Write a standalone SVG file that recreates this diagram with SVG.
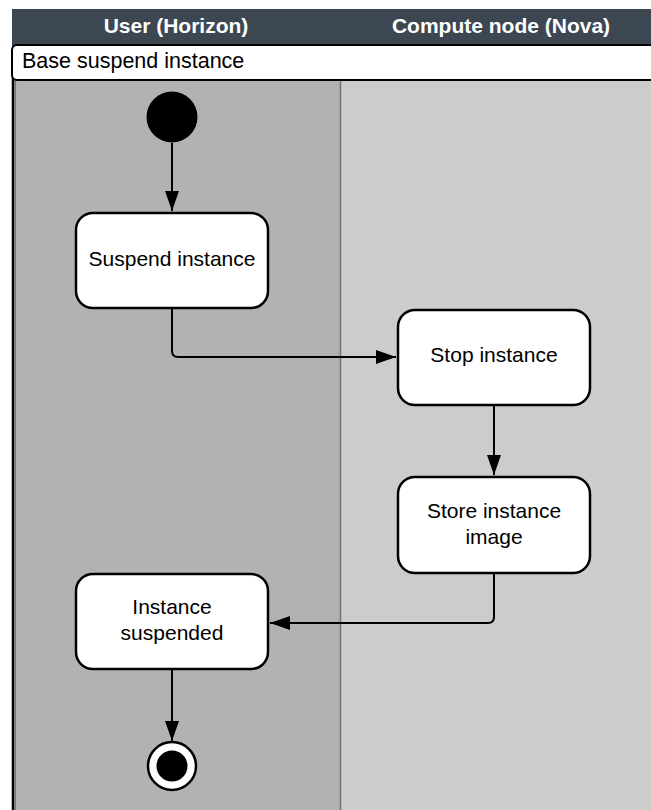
<svg xmlns="http://www.w3.org/2000/svg" width="651" height="810" viewBox="0 0 651 810">
<defs>
<style>
.lbl{font-family:"Liberation Sans",Arial,sans-serif;font-size:21px;fill:#000;text-anchor:middle}
.hdr{font-family:"Liberation Sans",Arial,sans-serif;font-size:21px;font-weight:bold;fill:#fff;text-anchor:middle}
.node{fill:#fff;stroke:#000;stroke-width:2.5}
.conn{fill:none;stroke:#000;stroke-width:2}
</style>
<marker id="arr" markerWidth="20" markerHeight="14" refX="20" refY="7" orient="auto" markerUnits="userSpaceOnUse">
<path d="M0,0 L20,7 L0,14 Z" fill="#000"/>
</marker>
</defs>
<rect x="0" y="0" width="651" height="810" fill="#fff"/>
<g id="pool">
<rect x="12" y="9" width="645" height="40" fill="#3d4752"/>
<text class="hdr" x="176" y="33">User (Horizon)</text>
<text class="hdr" x="501" y="33">Compute node (Nova)</text>
<rect x="12" y="80" width="328" height="740" fill="#b2b2b2"/>
<rect x="340" y="80" width="320" height="740" fill="#cccccc"/>
<line x1="340.5" y1="80" x2="340.5" y2="810" stroke="#6b737b" stroke-width="1.5"/>
<line x1="13" y1="60" x2="13" y2="810" stroke="#000" stroke-width="2.5"/>
<line x1="15.5" y1="80" x2="15.5" y2="810" stroke="#6b737b" stroke-width="1"/>
<rect x="12" y="45" width="650" height="35" rx="5" fill="#fff" stroke="#000" stroke-width="2"/>
<text x="22" y="68" font-family="'Liberation Sans',Arial,sans-serif" font-size="21.5" fill="#000">Base suspend instance</text>
</g>
<g id="connectors">
<path class="conn" d="M172,143 V211" marker-end="url(#arr)"/>
<path class="conn" d="M172,308 V351 Q172,357 178,357 H396" marker-end="url(#arr)"/>
<path class="conn" d="M494,405 V475" marker-end="url(#arr)"/>
<path class="conn" d="M494,573 V617 Q494,623 488,623 H270" marker-end="url(#arr)"/>
<path class="conn" d="M172,669 V741" marker-end="url(#arr)"/>
</g>
<g id="start">
<circle cx="172" cy="117" r="25.5" fill="#000"/>
</g>
<g id="suspend-instance">
<rect class="node" x="76" y="213" width="192" height="95" rx="17"/>
<text class="lbl" x="172" y="266">Suspend instance</text>
</g>
<g id="stop-instance">
<rect class="node" x="398" y="310" width="192" height="95" rx="17"/>
<text class="lbl" x="494" y="362">Stop instance</text>
</g>
<g id="store-instance-image">
<rect class="node" x="398" y="477" width="192" height="96" rx="17"/>
<text class="lbl" x="494" y="518">Store instance</text>
<text class="lbl" x="494" y="544">image</text>
</g>
<g id="instance-suspended">
<rect class="node" x="76" y="574" width="192" height="95" rx="17"/>
<text class="lbl" x="172" y="614">Instance</text>
<text class="lbl" x="172" y="640">suspended</text>
</g>
<g id="end">
<circle cx="172" cy="766" r="24" fill="#fff" stroke="#000" stroke-width="2.5"/>
<circle cx="172" cy="766" r="15.5" fill="#000"/>
</g>
</svg>
